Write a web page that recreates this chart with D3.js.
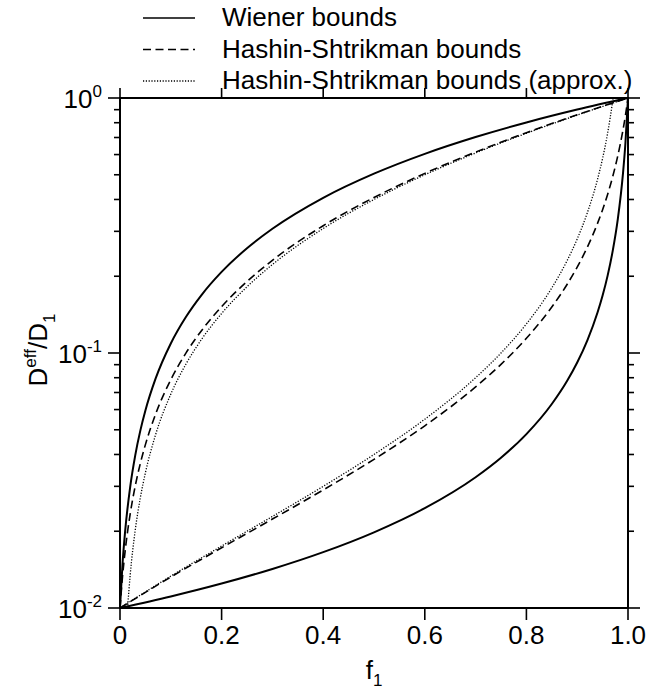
<!DOCTYPE html>
<html>
<head>
<meta charset="utf-8">
<script src="https://cdn.jsdelivr.net/npm/d3@7"></script>
<style>
  body { margin: 0; background: #fff; }
  text { font-family: "Liberation Sans", Arial, Helvetica, sans-serif; fill: #000; }
</style>
</head>
<body>
<div id="chart"></div>
<script>
var width = 647;
var height = 693;

// volume fraction grids and D_eff/D_1 values
var fUpper = [0, 0.005, 0.01, 0.02, 0.03, 0.04, 0.05, 0.07, 0.1, 0.13, 0.16, 0.2, 0.25, 0.3, 0.4, 0.5, 0.6, 0.7, 0.8, 0.9, 1.0];
var wienerUpper = [0.01, 0.01495, 0.0199, 0.0298, 0.0397, 0.0496, 0.0595, 0.0793, 0.109, 0.1387, 0.1684, 0.208, 0.2575, 0.307, 0.406, 0.505, 0.604, 0.703, 0.802, 0.901, 1.0];
var hsUpper = [0.01, 0.01332, 0.01665, 0.02335, 0.0301, 0.03689, 0.04372, 0.05753, 0.07859, 0.10009, 0.12204, 0.15203, 0.19074, 0.23086, 0.31567, 0.40718, 0.50623, 0.61378, 0.73098, 0.85917, 1.0];

var fUpperApprox = [0.0149, 0.02, 0.03, 0.04, 0.05, 0.07, 0.1, 0.13, 0.16, 0.2, 0.25, 0.3, 0.4, 0.5, 0.6, 0.7, 0.8, 0.9, 1.0];
var hsUpperApprox = [0.01, 0.01342, 0.0202, 0.02703, 0.0339, 0.04778, 0.06897, 0.09059, 0.11268, 0.14286, 0.18182, 0.22222, 0.30769, 0.4, 0.5, 0.6087, 0.72727, 0.85714, 1.0];

var fLower = [0, 0.1, 0.2, 0.3, 0.4, 0.5, 0.6, 0.7, 0.75, 0.8, 0.85, 0.88, 0.9, 0.92, 0.94, 0.95, 0.96, 0.97, 0.98, 0.99, 0.995, 1.0];
var wienerLower = [0.01, 0.011099, 0.012469, 0.014225, 0.016556, 0.019802, 0.024631, 0.032573, 0.038835, 0.048077, 0.063091, 0.07764, 0.091743, 0.11211, 0.14409, 0.16807, 0.20161, 0.25189, 0.33557, 0.50251, 0.6689, 1.0];
var hsLower = [0.01, 0.013225, 0.017226, 0.022324, 0.029038, 0.038286, 0.051831, 0.073578, 0.090271, 0.11421, 0.15143, 0.18565, 0.21721, 0.26022, 0.32228, 0.3649, 0.41966, 0.49256, 0.59445, 0.74693, 0.85553, 1.0];

var fLowerApprox = [0, 0.1, 0.2, 0.3, 0.4, 0.5, 0.6, 0.7, 0.75, 0.8, 0.85, 0.88, 0.9, 0.92, 0.94, 0.95, 0.96, 0.97, 0.9706];
var hsLowerApprox = [0.01, 0.013333, 0.0175, 0.022857, 0.03, 0.04, 0.055, 0.08, 0.1, 0.13, 0.18, 0.23, 0.28, 0.355, 0.48, 0.58, 0.73, 0.98, 1.0];

var xTicks = [0, 0.2, 0.4, 0.6, 0.8, 1.0];
var xTickLabels = ["0", "0.2", "0.4", "0.6", "0.8", "1.0"];
var yMajor = [0.01, 0.1, 1];
var yMajorExp = ["-2", "-1", "0"];

var legendLabels = ["Wiener bounds", "Hashin-Shtrikman bounds", "Hashin-Shtrikman bounds (approx.)"];
var legendDash = [null, "8,4.5", "1.2,1.6"];

// plot box (named to avoid clashing with window.top)
var plotL = 120, plotR = 628, plotT = 98, plotB = 608;

var svg = d3.select("#chart")
  .append("svg")
  .attr("width", width)
  .attr("height", height);

var x = d3.scaleLinear().domain([0, 1]).range([plotL, plotR]);
var y = d3.scaleLog().domain([0.01, 1]).range([plotB, plotT]);

// minor log ticks
var yMinor = [];
[0.01, 0.1].forEach(function (d) {
  for (var k = 2; k <= 9; k++) yMinor.push(d * k);
});

var line = d3.line()
  .x(function (d) { return x(d[0]); })
  .y(function (d) { return y(d[1]); })
  .curve(d3.curveMonotoneX);

function pairs(fs, vs) {
  return fs.map(function (f, i) { return [f, vs[i]]; });
}

var series = [
  { data: pairs(fUpper, wienerUpper), dash: null, w: 2 },
  { data: pairs(fLower, wienerLower), dash: null, w: 2 },
  { data: pairs(fUpper, hsUpper), dash: legendDash[1], w: 1.6 },
  { data: pairs(fLower, hsLower), dash: legendDash[1], w: 1.6 },
  { data: pairs(fUpperApprox, hsUpperApprox), dash: legendDash[2], w: 1.3 },
  { data: pairs(fLowerApprox, hsLowerApprox), dash: legendDash[2], w: 1.3 }
];

svg.append("g")
  .selectAll("path")
  .data(series)
  .enter()
  .append("path")
  .attr("d", function (d) { return line(d.data); })
  .attr("fill", "none")
  .attr("stroke", "#000")
  .attr("stroke-width", function (d) { return d.w; })
  .attr("stroke-dasharray", function (d) { return d.dash; });

// frame
svg.append("rect")
  .attr("x", plotL).attr("y", plotT)
  .attr("width", plotR - plotL).attr("height", plotB - plotT)
  .attr("fill", "none")
  .attr("stroke", "#000")
  .attr("stroke-width", 2);

var ticks = svg.append("g").attr("stroke", "#000").attr("stroke-width", 1.6);

// x ticks, bottom (down) and top (up)
xTicks.forEach(function (t) {
  ticks.append("line").attr("x1", x(t)).attr("x2", x(t)).attr("y1", plotB).attr("y2", plotB + 12);
  ticks.append("line").attr("x1", x(t)).attr("x2", x(t)).attr("y1", plotT).attr("y2", plotT - 10);
});

// y ticks, outward on both sides
yMajor.forEach(function (t) {
  ticks.append("line").attr("x1", plotL - 12).attr("x2", plotL).attr("y1", y(t)).attr("y2", y(t));
  ticks.append("line").attr("x1", plotR).attr("x2", plotR + 12).attr("y1", y(t)).attr("y2", y(t));
});
yMinor.forEach(function (t) {
  ticks.append("line").attr("x1", plotL - 6).attr("x2", plotL).attr("y1", y(t)).attr("y2", y(t));
  ticks.append("line").attr("x1", plotR).attr("x2", plotR + 6).attr("y1", y(t)).attr("y2", y(t));
});

// x tick labels
svg.append("g")
  .selectAll("text")
  .data(xTicks)
  .enter()
  .append("text")
  .attr("x", function (d) { return x(d); })
  .attr("y", 644)
  .attr("text-anchor", "middle")
  .attr("font-size", 26)
  .text(function (d, i) { return xTickLabels[i]; });

// y tick labels 10^n
var yl = svg.append("g")
  .selectAll("text")
  .data(yMajor)
  .enter()
  .append("text")
  .attr("x", 102)
  .attr("y", function (d) { return y(d) + 10; })
  .attr("text-anchor", "end")
  .attr("font-size", 26);
yl.append("tspan").text("10");
yl.append("tspan")
  .attr("font-size", 17)
  .attr("dy", -11)
  .text(function (d, i) { return yMajorExp[i]; });

// axis titles
var xt = svg.append("text")
  .attr("x", (plotL + plotR) / 2)
  .attr("y", 679)
  .attr("text-anchor", "middle")
  .attr("font-size", 26);
xt.append("tspan").text("f");
xt.append("tspan").attr("font-size", 17).attr("dy", 7).text("1");

var ytl = svg.append("text")
  .attr("transform", "translate(47," + 350 + ") rotate(-90)")
  .attr("text-anchor", "middle")
  .attr("font-size", 26);
ytl.append("tspan").text("D");
ytl.append("tspan").attr("font-size", 17).attr("dy", -11).text("eff");
ytl.append("tspan").attr("dy", 11).text("/D");
ytl.append("tspan").attr("font-size", 17).attr("dy", 8).text("1");

// legend
var lg = svg.append("g")
  .selectAll("g")
  .data(legendLabels)
  .enter()
  .append("g")
  .attr("transform", function (d, i) { return "translate(0," + (26 + i * 31.5) + ")"; });
lg.append("line")
  .attr("x1", 143).attr("x2", 195)
  .attr("y1", -8).attr("y2", -8)
  .attr("stroke", "#000")
  .attr("stroke-width", function (d, i) { return i === 2 ? 1.3 : 1.6; })
  .attr("stroke-dasharray", function (d, i) { return legendDash[i]; });
lg.append("text")
  .attr("x", 222)
  .attr("y", 0)
  .attr("font-size", 26)
  .text(function (d) { return d; });
</script>
</body>
</html>
